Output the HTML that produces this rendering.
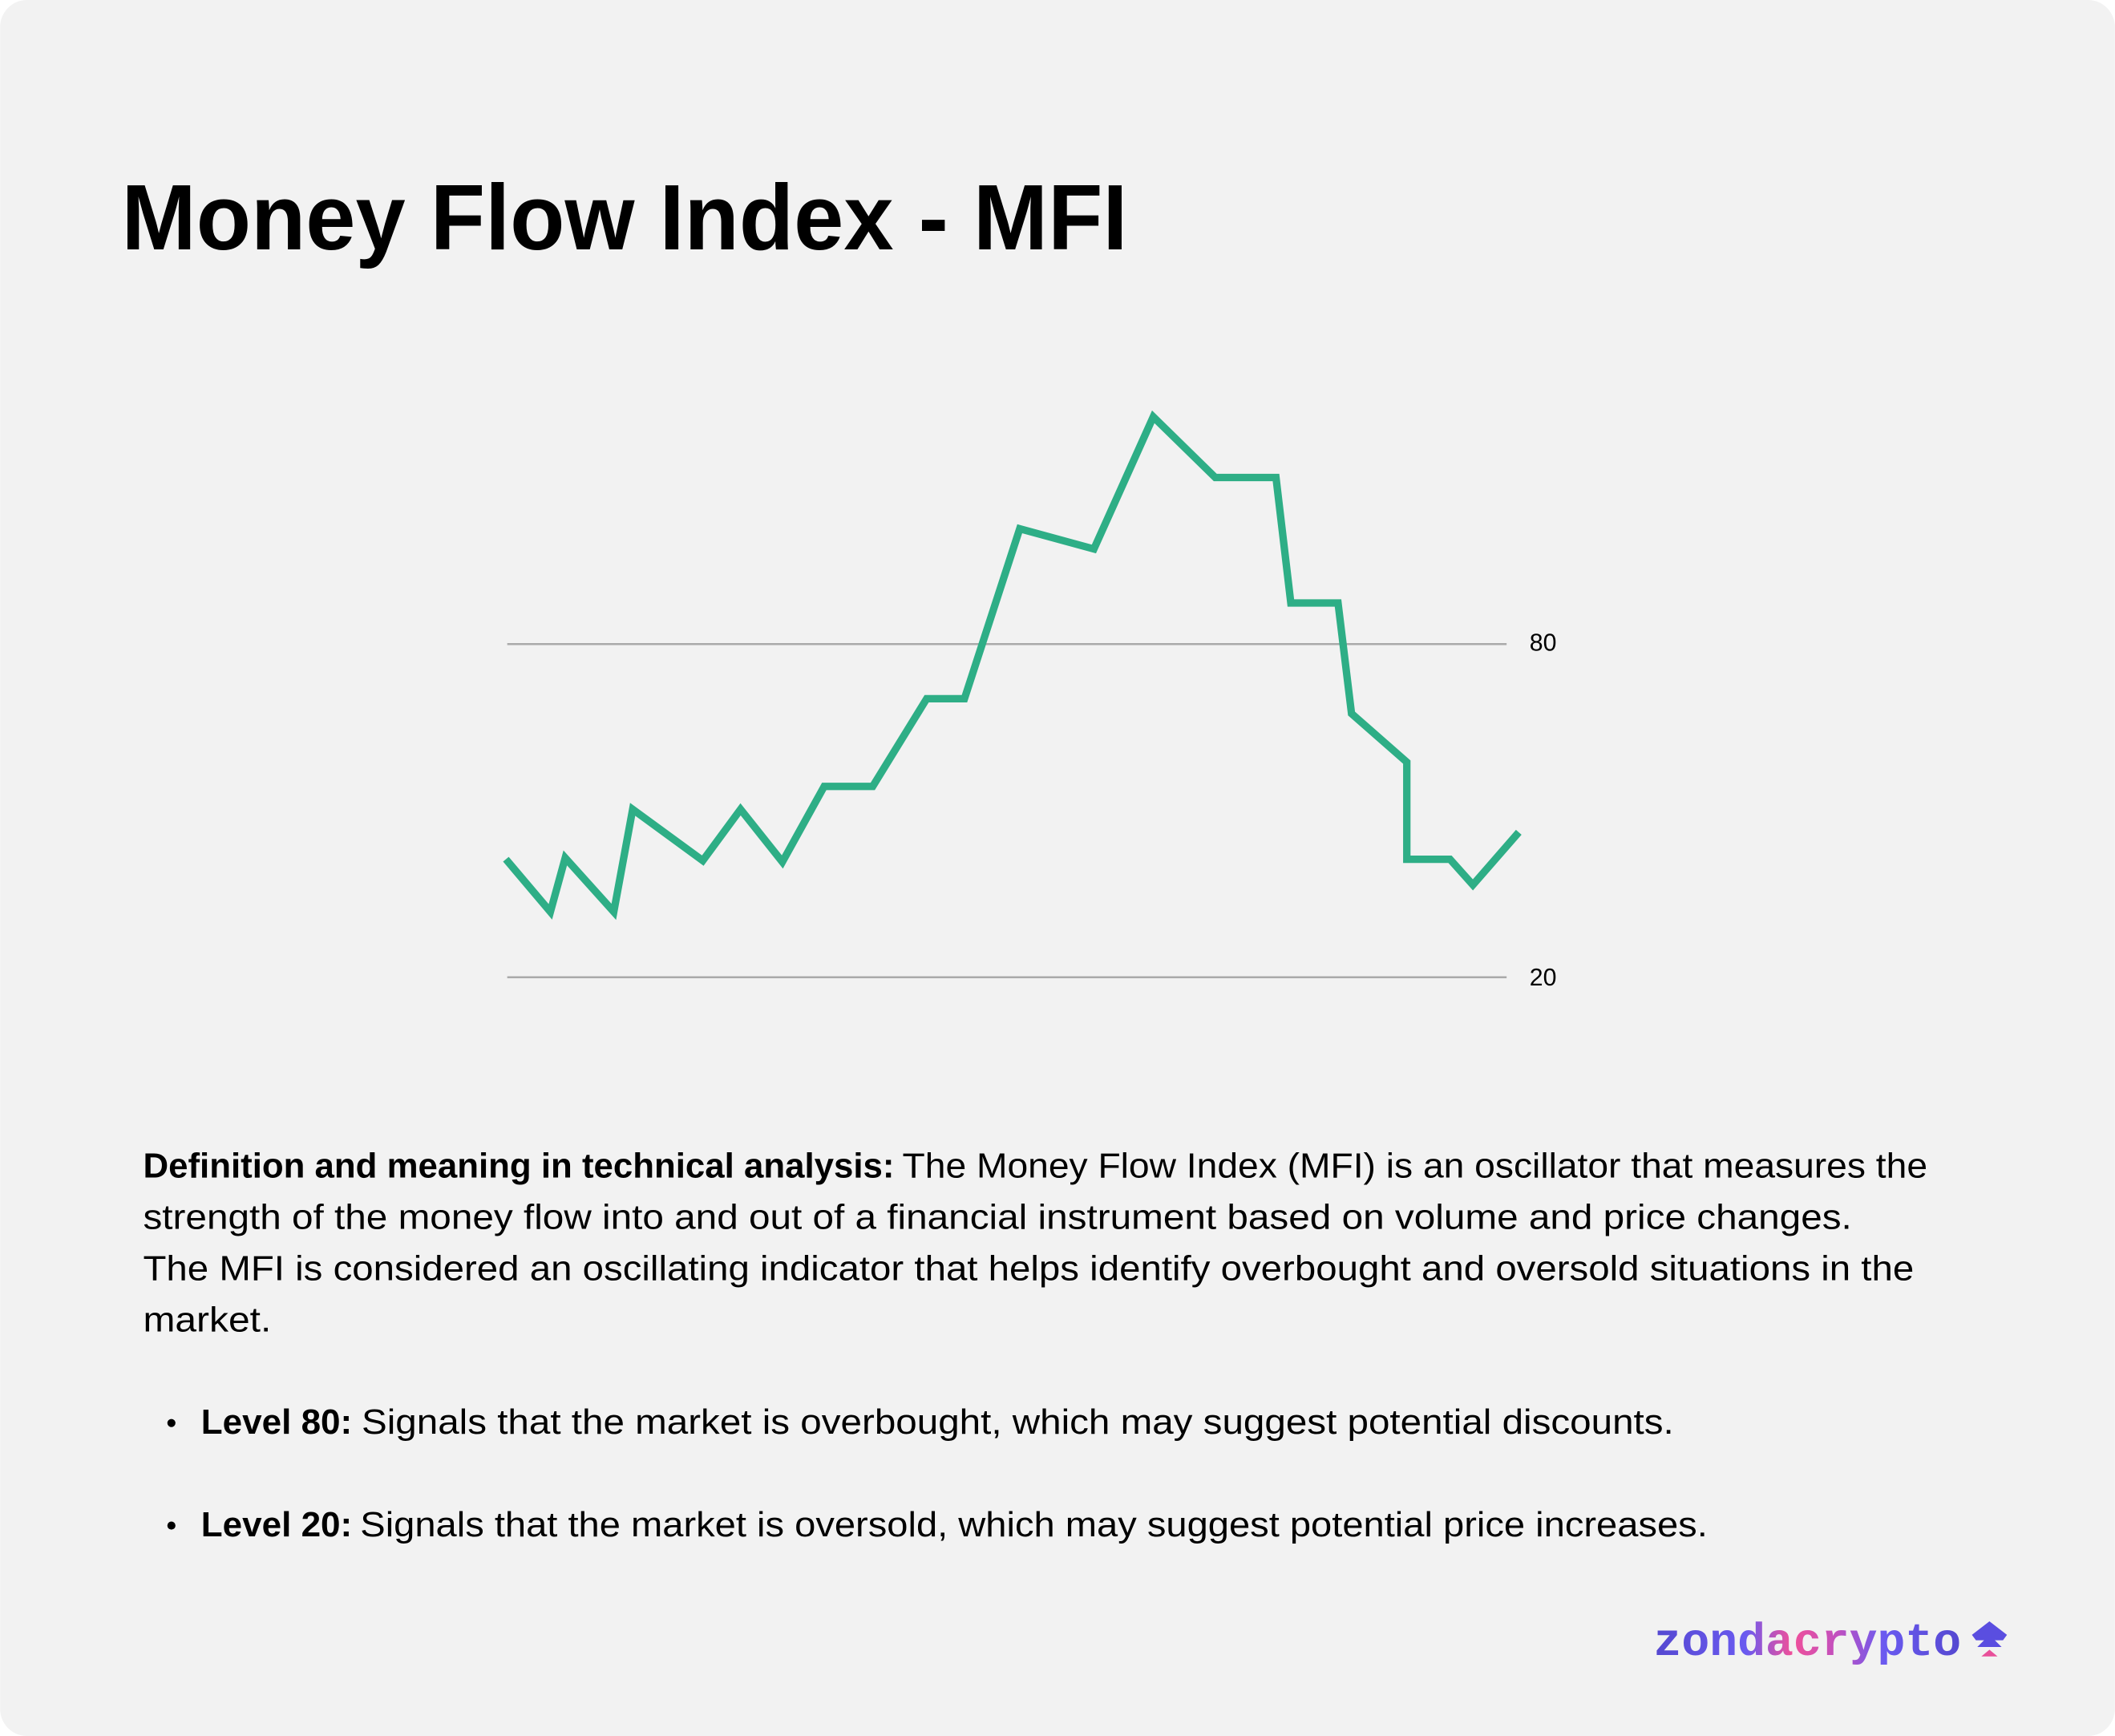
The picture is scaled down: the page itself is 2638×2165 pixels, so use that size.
<!DOCTYPE html>
<html><head><meta charset="utf-8"><style>
html,body{margin:0;padding:0;background:#fff;}
svg{display:block;}
</style></head><body>
<svg width="2638" height="2165" viewBox="0 0 1568 1287" xmlns="http://www.w3.org/2000/svg" font-family="'Liberation Sans', sans-serif">
<defs>
<linearGradient id="lg" x1="0" x2="1" y1="0" y2="0">
<stop offset="0" stop-color="#5548d0"/><stop offset="0.3" stop-color="#6a5af0"/><stop offset="0.45" stop-color="#f0509a"/><stop offset="0.6" stop-color="#c050c0"/><stop offset="0.75" stop-color="#6a5af0"/><stop offset="1" stop-color="#5548d0"/>
</linearGradient>
</defs>
<rect x="0" y="0" width="1568" height="1287" rx="20" fill="#f2f2f2"/>
<text x="90" y="185" font-size="69" font-weight="bold" fill="#000" textLength="746" lengthAdjust="spacingAndGlyphs">Money Flow Index - MFI</text>
<line x1="376" y1="477.5" x2="1117" y2="477.5" stroke="#aaa" stroke-width="1.5"/>
<line x1="376" y1="724.5" x2="1117" y2="724.5" stroke="#aaa" stroke-width="1.5"/>
<text x="1134" y="482.5" font-size="18" fill="#000">80</text>
<text x="1134" y="730.5" font-size="18" fill="#000">20</text>
<polyline fill="none" stroke="#2eae86" stroke-width="5.5" stroke-linejoin="miter" points="375,637 408,676 419,636 455,676 469,600 521,638 549,600 580,639 611,583 647,583 687,518 715,518 756,392 811,407 855,309 901,354 946,354 957,447 992,447 1002,529 1043,565 1043,637 1075,637 1092,656 1126,617"/>
<g font-size="26" fill="#000">
<text x="106" y="873" font-weight="bold" textLength="557" lengthAdjust="spacingAndGlyphs">Definition and meaning in technical analysis:</text>
<text x="669" y="873" textLength="760" lengthAdjust="spacingAndGlyphs">The Money Flow Index (MFI) is an oscillator that measures the</text>
<text x="106" y="911" textLength="1267" lengthAdjust="spacingAndGlyphs">strength of the money flow into and out of a financial instrument based on volume and price changes.</text>
<text x="106" y="949" textLength="1313" lengthAdjust="spacingAndGlyphs">The MFI is considered an oscillating indicator that helps identify overbought and oversold situations in the</text>
<text x="106" y="987" textLength="95" lengthAdjust="spacingAndGlyphs">market.</text>
<circle cx="127" cy="1055" r="3"/>
<text x="149" y="1063" font-weight="bold" textLength="112" lengthAdjust="spacingAndGlyphs">Level 80:</text>
<text x="268" y="1063" textLength="973" lengthAdjust="spacingAndGlyphs">Signals that the market is overbought, which may suggest potential discounts.</text>
<circle cx="127" cy="1131" r="3"/>
<text x="149" y="1139" font-weight="bold" textLength="112" lengthAdjust="spacingAndGlyphs">Level 20:</text>
<text x="267" y="1139" textLength="999" lengthAdjust="spacingAndGlyphs">Signals that the market is oversold, which may suggest potential price increases.</text>
</g>
<text x="1226" y="1227" font-size="34" font-weight="bold" font-family="'Liberation Mono', monospace" fill="url(#lg)" textLength="228" lengthAdjust="spacingAndGlyphs">zondacrypto</text>
<polygon points="1475,1202 1462,1212 1465,1216 1471,1216 1466,1221 1484,1221 1479,1216 1485,1216 1488,1212" fill="#5a4ee0"/>
<polygon points="1475,1223 1469,1228 1481,1228" fill="#e8509a"/>
</svg>
</body></html>
